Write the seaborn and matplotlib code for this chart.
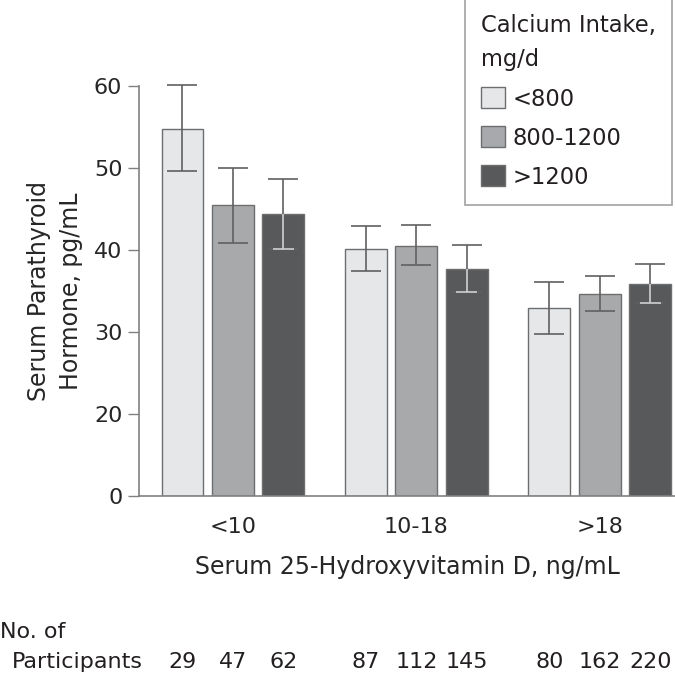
import numpy as np
import pandas as pd
import matplotlib
matplotlib.use("Agg")
from matplotlib import pyplot as plt
from matplotlib.patches import Patch
from matplotlib.transforms import blended_transform_factory
import seaborn as sns

# data
vitd_groups = ["<10", "10-18", ">18"]
intake_levels = ["<800", "800-1200", ">1200"]
pth_mean = {
    "<800": [54.8, 40.1, 32.9],
    "800-1200": [45.5, 40.5, 34.6],
    ">1200": [44.4, 37.7, 35.8],
}
pth_low = {
    "<800": [49.6, 37.5, 29.8],
    "800-1200": [40.8, 38.2, 32.6],
    ">1200": [40.1, 34.9, 33.5],
}
pth_high = {
    "<800": [60.1, 42.9, 36.1],
    "800-1200": [50.0, 43.0, 36.8],
    ">1200": [48.7, 40.6, 38.3],
}
n_participants = {
    "<800": [29, 87, 80],
    "800-1200": [47, 112, 162],
    ">1200": [62, 145, 220],
}
y_ticks = [0, 20, 30, 40, 50, 60]

colors = ["#e6e7e8", "#a7a9ac", "#58595b"]
edge = "#6d6e70"
axis_grey = "#808080"

rows = []
for lvl in intake_levels:
    for g, v in zip(vitd_groups, pth_mean[lvl]):
        rows.append({"vitd": g, "intake": lvl, "pth": v})
df = pd.DataFrame(rows)


# the y axis is broken between 0 and 20 (0-20 takes the room of 10 units)
def fwd(v):
    v = np.asarray(v, dtype=float)
    return np.where(v >= 20, v - 10, v / 2)


def inv(p):
    p = np.asarray(p, dtype=float)
    return np.where(p >= 10, p + 10, p * 2)


sns.set_theme(style="ticks")
plt.rcParams["font.family"] = ["DejaVu Sans"]
plt.rcParams["text.color"] = "#231f20"

fig = plt.figure(figsize=(6.75, 6.83), dpi=100)
ax = fig.add_axes([139 / 675, 1 - 496 / 683, (675 - 139) / 675, (496 - 86) / 683])

sns.barplot(data=df, x="vitd", y="pth", hue="intake", order=vitd_groups,
            hue_order=intake_levels, palette=colors, width=0.825, gap=0.17,
            edgecolor=edge, linewidth=1, errorbar=None, legend=False, ax=ax)

ax.set_yscale("function", functions=(fwd, inv))
ax.set_ylim(0, 60)
ax.set_xlim(-0.512, 2.41)

# error bars and participant counts, placed at the bar centres
trans = blended_transform_factory(ax.transData, fig.transFigure)
for i, (lvl, cont) in enumerate(zip(intake_levels, ax.containers)):
    xs = [b.get_x() + b.get_width() / 2 for b in cont]
    m = np.array(pth_mean[lvl])
    lo = np.array(pth_low[lvl])
    hi = np.array(pth_high[lvl])
    eb = ax.errorbar(xs, m, yerr=[m - lo, hi - m], fmt="none", ecolor="#606062",
                     elinewidth=1.2, capsize=10.5, capthick=1.2, zorder=5)
    for art in eb.get_children():
        art.set_clip_on(False)
    if i == 2:
        ax.vlines(xs, lo, m, color="#d0d0d0", lw=1.2, zorder=6)
        ax.hlines(lo, np.array(xs) - 0.057, np.array(xs) + 0.057,
                  color="#d0d0d0", lw=1.2, zorder=6)
    for x, n in zip(xs, n_participants[lvl]):
        ax.text(x, 1 - 662 / 683, str(n), transform=trans, ha="center",
                va="center", fontsize=16)

ax.set_yticks(y_ticks)
ax.set_yticklabels([str(t) for t in y_ticks])
ax.minorticks_off()
ax.tick_params(axis="y", length=8, width=1, color=axis_grey, labelsize=16, pad=4)
ax.tick_params(axis="x", length=0, labelsize=16, pad=15)
sns.despine(ax=ax)
ax.spines["left"].set_color(axis_grey)
ax.spines["bottom"].set_color(axis_grey)
ax.spines["left"].set_linewidth(1.2)
ax.spines["bottom"].set_linewidth(1.2)

ax.set_xlabel("Serum 25-Hydroxyvitamin D, ng/mL", fontsize=17, labelpad=13)
ax.set_ylabel("Serum Parathyroid\nHormone, pg/mL", fontsize=17, labelpad=8,
              linespacing=1.4)

fig.text(0.0, 1 - 632 / 683, "No. of", ha="left", va="center", fontsize=16)
fig.text(12 / 675, 1 - 662 / 683, "Participants", ha="left", va="center",
         fontsize=16)

handles = [Patch(facecolor=c, edgecolor=edge, linewidth=1) for c in colors]
leg = fig.legend(handles, intake_levels, title="Calcium Intake,\nmg/d",
                 loc="upper right", bbox_to_anchor=(672 / 675, 1.003),
                 frameon=True, fancybox=False, fontsize=16.3, title_fontsize=16.3,
                 handlelength=1.05, handleheight=1.05, handletextpad=0.35,
                 labelspacing=0.7, borderpad=0.7, alignment="left",
                 borderaxespad=0)
leg.get_frame().set_edgecolor("#8a8a8a")
leg.get_frame().set_linewidth(1.2)
leg.get_title().set_linespacing(1.65)

fig.savefig("out.png", dpi=100, facecolor="white")
